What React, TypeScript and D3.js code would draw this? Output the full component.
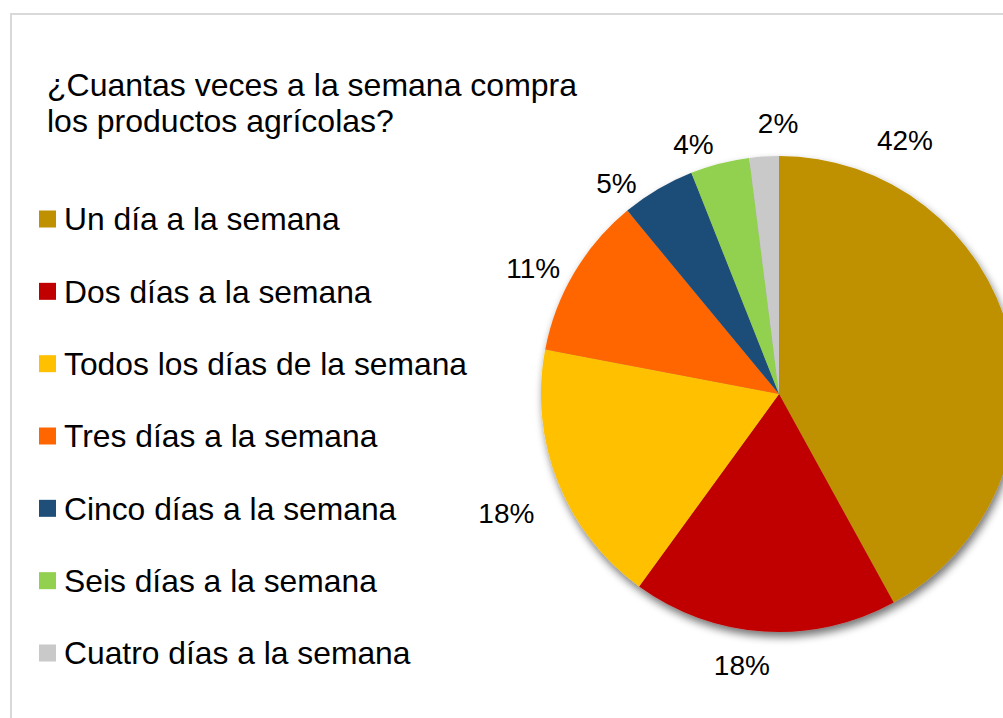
import React from "react";
import * as d3 from "d3";

const WIDTH = 1003;
const HEIGHT = 718;

const TITLE = ["¿Cuantas veces a la semana compra", "los productos agrícolas?"];

const categories = [
  "Un día a la semana",
  "Dos días a la semana",
  "Todos los días de la semana",
  "Tres días a la semana",
  "Cinco días a la semana",
  "Seis días a la semana",
  "Cuatro días a la semana",
];
const values = [42, 18, 18, 11, 5, 4, 2];
const colors = ["#BF9000", "#C00000", "#FFC000", "#FF6600", "#1F4E79", "#92D050", "#C9C9C9"];

// label placement: [angle in degrees clockwise from top, distance as share of radius]
const labelPlacement: [number, number][] = [
  [26.4, 1.19],
  [187.8, 1.15],
  [246.4, 1.25],
  [297.1, 1.16],
  [322.4, 1.12],
  [341.1, 1.11],
  [359.8, 1.14],
];

const CX = 779;
const CY = 394;
const R = 238;
const FONT = "'Liberation Sans', Arial, sans-serif";

export default function App() {
  const pie = d3
    .pie<number>()
    .sort(null)
    .value((d) => d);
  const arcs = pie(values);
  const arc = d3.arc<d3.PieArcDatum<number>>().innerRadius(0).outerRadius(R);

  const legendY = d3
    .scalePoint<string>()
    .domain(categories)
    .range([219, 653]);

  return (
    <svg
      width={WIDTH}
      height={HEIGHT}
      style={{ position: "absolute", left: 0, top: 0, background: "#fff" }}
      fontFamily={FONT}
    >
      <defs>
        <filter id="shadow" x="-20%" y="-20%" width="140%" height="140%">
          <feGaussianBlur in="SourceAlpha" stdDeviation="4" />
          <feOffset dx="2" dy="5" result="blur" />
          <feComponentTransfer>
            <feFuncA type="linear" slope="0.55" />
          </feComponentTransfer>
          <feMerge>
            <feMergeNode />
            <feMergeNode in="SourceGraphic" />
          </feMerge>
        </filter>
      </defs>

      {/* chart frame */}
      <path d={`M11,${HEIGHT} V14 H${WIDTH}`} fill="none" stroke="#d9d9d9" strokeWidth={2} />

      {/* title */}
      <text x={47} y={96} fontSize={32} fill="#000">
        {TITLE.map((t, i) => (
          <tspan key={i} x={47} dy={i === 0 ? 0 : 36}>
            {t}
          </tspan>
        ))}
      </text>

      {/* legend */}
      <g>
        {categories.map((c, i) => {
          const y = legendY(c) as number;
          return (
            <g key={c} transform={`translate(39, ${y})`}>
              <rect x={0} y={-8.5} width={17} height={17} fill={colors[i]} />
              <text x={25} y={0} dy="0.36em" fontSize={31.8} fill="#000">
                {c}
              </text>
            </g>
          );
        })}
      </g>

      {/* pie */}
      <g transform={`translate(${CX}, ${CY})`}>
        <g filter="url(#shadow)">
          {arcs.map((a, i) => (
            <path key={i} d={arc(a) || ""} fill={colors[i]} />
          ))}
        </g>
        {arcs.map((a, i) => {
          const [deg, k] = labelPlacement[i];
          const ang = (deg * Math.PI) / 180;
          const x = Math.sin(ang) * R * k;
          const y = -Math.cos(ang) * R * k;
          return (
            <text
              key={"l" + i}
              x={x}
              y={y}
              dy="0.36em"
              textAnchor="middle"
              fontSize={28}
              fill="#000"
            >
              {d3.format(".0f")(a.data)}%
            </text>
          );
        })}
      </g>
    </svg>
  );
}
